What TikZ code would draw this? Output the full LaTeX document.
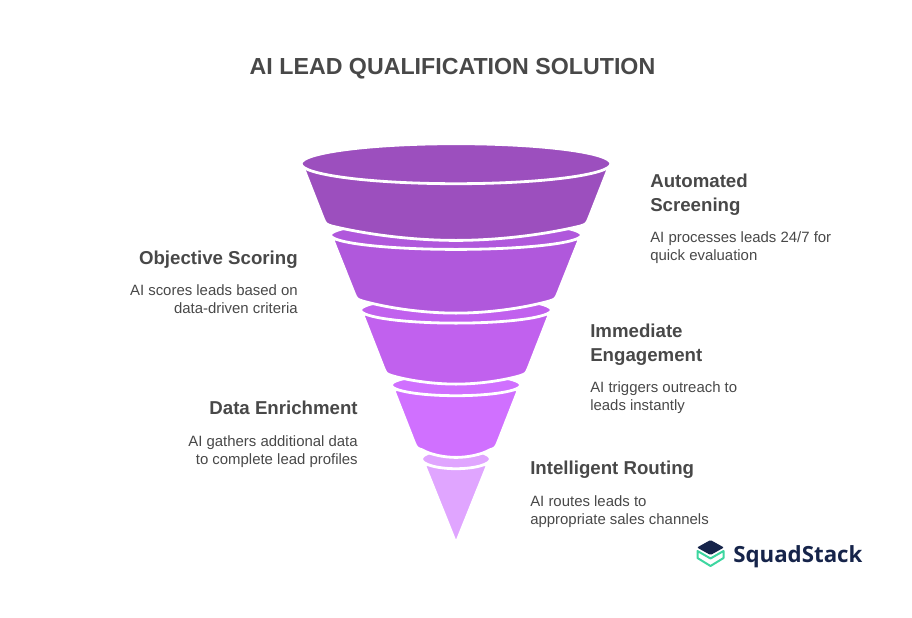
\documentclass[tikz,border=0pt]{standalone}
\usepackage{fontspec}
\setmainfont{Liberation Sans}
\newfontfamily\logofont{Open Sans}
\definecolor{testo}{HTML}{484848}
\definecolor{marchio}{HTML}{16244A}
\definecolor{verde}{HTML}{3DD6A0}
\tikzset{
  titolo/.style={inner sep=0pt,text=testo,font=\bfseries\fontsize{17.4}{24}\selectfont},
  voce/.style={inner sep=0pt,text=testo,font=\bfseries\fontsize{14}{18}\selectfont},
  nota/.style={inner sep=0pt,text=testo,font=\fontsize{11.2}{13.5}\selectfont},
  pezzo/.style={draw=white,line width=2.1pt,line join=miter}
}
% sezione: colore, meta' larghezza e y sopra, meta' larghezza e y sotto
\newcommand{\sezione}[6]{%
  \path[pezzo,fill=#1] (456-#2,#3) -- (456+#2,#3)
    -- (456+#4+2.5,#5-6) .. controls (456+#4,#5) .. (456+#4-6,#5+2)
    .. controls (456+0.65*#4,#5+0.7*#6-0.7*#5) and (456+0.3*#4,#6) .. (456,#6)
    .. controls (456-0.3*#4,#6) and (456-0.65*#4,#5+0.7*#6-0.7*#5) .. (456-#4+6,#5+2)
    .. controls (456-#4,#5) .. (456-#4-2.5,#5-6) -- cycle;}
\begin{document}
\begin{tikzpicture}[x=0.75pt,y=-0.75pt]
  \useasboundingbox (0,0) rectangle (912,617);
  \definecolor{uno}{HTML}{9C4FBE}
  \definecolor{due}{HTML}{B058DC}
  \definecolor{tre}{HTML}{C161EE}
  \definecolor{quattro}{HTML}{D070FF}
  \definecolor{cinque}{HTML}{E0A5FF}

  % Imbuto, dal basso verso l'alto
  \path[pezzo,fill=cinque] (424.4,464.7) -- (487.6,464.7) -- (456,543.4) -- cycle;
  \path[pezzo,fill=cinque] (456,459) ellipse [x radius=34.4,y radius=9.7];
  \sezione{quattro}{62.4}{389.7}{39.4}{448}{457.4}
  \path[pezzo,fill=quattro] (456,385) ellipse [x radius=64.7,y radius=10.7];
  \sezione{tre}{93.4}{314}{69.9}{373.7}{384.1}
  \path[pezzo,fill=tre] (456,310) ellipse [x radius=95.4,y radius=13.1];
  \sezione{due}{123.4}{239}{99.4}{299}{313.1}
  \path[pezzo,fill=due] (456,235) ellipse [x radius=125.4,y radius=14.4];
  \sezione{uno}{152.9}{167}{130.4}{224}{240.4}
  \path[pezzo,fill=uno] (456,163.7) ellipse [x radius=154.9,y radius=20];

  % Testi
  \node[titolo,anchor=base] (title) at (452.5,74.5) {AI LEAD QUALIFICATION SOLUTION};

  \node[voce,anchor=north west,align=left] (screening) at (650,173.5) {Automated\\Screening};
  \node[nota,anchor=north west,align=left] (screeningtxt) at (650,231.5) {AI processes leads 24/7 for\\quick evaluation};

  \node[voce,anchor=north east,align=right] (scoring) at (298,251) {Objective Scoring};
  \node[nota,anchor=north east,align=right] (scoringtxt) at (298,284.5) {AI scores leads based on\\data-driven criteria};

  \node[voce,anchor=north west,align=left] (engagement) at (590,323.5) {Immediate\\Engagement};
  \node[nota,anchor=north west,align=left] (engagementtxt) at (590,381) {AI triggers outreach to\\leads instantly};

  \node[voce,anchor=north east,align=right] (enrichment) at (358,401) {Data Enrichment};
  \node[nota,anchor=north east,align=right] (enrichmenttxt) at (358,435) {AI gathers additional data\\to complete lead profiles};

  \node[voce,anchor=north west,align=left] (routing) at (530,461) {Intelligent Routing};
  \node[nota,anchor=north west,align=left] (routingtxt) at (530,495) {AI routes leads to\\appropriate sales channels};

  % Logo
  \draw[verde,line width=1.5pt,line join=round] (697.5,551) -- (710.5,558.5) -- (723.5,551) -- (723.5,558) -- (710.5,566) -- (697.5,558) -- cycle;
  \fill[marchio,rounded corners=0.8] (710.5,540) -- (724,547.5) -- (710.5,555) -- (697,547.5) -- cycle;
  \node[anchor=base west,inner sep=0pt,text=marchio,font=\logofont\bfseries\fontsize{16.7}{20}\selectfont] (logo) at (733,562) {SquadStack};
\end{tikzpicture}
\end{document}
